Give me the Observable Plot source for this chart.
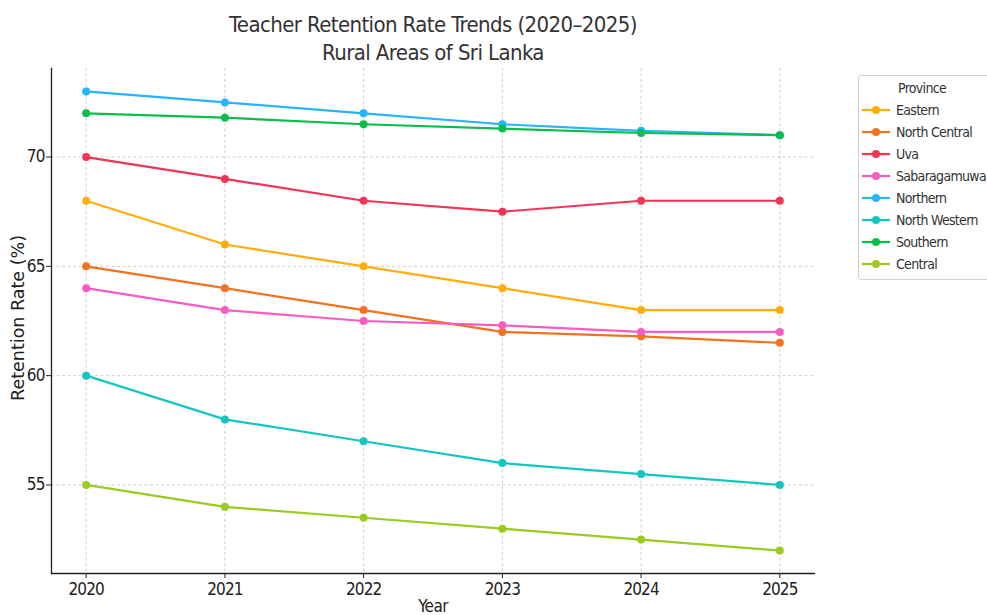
<!DOCTYPE html>
<html>
<head>
<meta charset="utf-8">
<script src="https://cdn.jsdelivr.net/npm/d3@7"></script>
<script src="https://cdn.jsdelivr.net/npm/@observablehq/plot@0.6"></script>
<style>
  body { margin: 0; background: white; }
  #wrap { position: relative; width: 987px; height: 615px; overflow: hidden; }
  #legend { position: absolute; left: 858px; top: 75px; width: 140px; height: 205px;
    border: 1px solid #d0d0d0; border-radius: 3px; background: white;
    font-family: "DejaVu Sans Condensed", "DejaVu Sans", sans-serif; font-size: 14px; letter-spacing: -0.7px; color: #333; box-sizing: border-box; }
  #legend .ttl { text-align: center; margin-top: 4px; margin-right: 12px; height: 19px; line-height: 17px; }
  #legend .row { display: flex; align-items: center; height: 22px; }
  #legend svg { margin-left: 3px; margin-right: 6px; }
</style>
</head>
<body>
<div id="wrap"><div id="chart"></div><div id="legend"></div></div>
<script>
const years = [2020, 2021, 2022, 2023, 2024, 2025];
const provinces = ["Eastern", "North Central", "Uva", "Sabaragamuwa", "Northern", "North Western", "Southern", "Central"];
const colors = ["#ffad0a", "#f4711f", "#f23557", "#f95cc0", "#26b4fb", "#14c6c0", "#0bbd4a", "#9acb1f"];
const eastern = [68, 66, 65, 64, 63, 63];
const northCentral = [65, 64, 63, 62, 61.8, 61.5];
const uva = [70, 69, 68, 67.5, 68, 68];
const sabaragamuwa = [64, 63, 62.5, 62.3, 62, 62];
const northern = [73, 72.5, 72, 71.5, 71.2, 71];
const northWestern = [60, 58, 57, 56, 55.5, 55];
const southern = [72, 71.8, 71.5, 71.3, 71.1, 71];
const central = [55, 54, 53.5, 53, 52.5, 52];
const yTicks = [55, 60, 65, 70];
const titleLine1 = "Teacher Retention Rate Trends (2020–2025)";
const titleLine2 = "Rural Areas of Sri Lanka";
const xLabel = "Year";
const yLabel = "Retention Rate (%)";

const series = [eastern, northCentral, uva, sabaragamuwa, northern, northWestern, southern, central];
const data = [];
provinces.forEach((p, i) => years.forEach((y, j) => data.push({province: p, year: y, value: series[i][j]})));

const grid = {stroke: "#c4c4c4", strokeOpacity: 1, strokeWidth: 0.8, strokeDasharray: "3,2.5"};

const chart = Plot.plot({
  width: 987, height: 615,
  marginLeft: 51, marginRight: 173, marginTop: 68, marginBottom: 42,
  style: {fontFamily: "'DejaVu Sans Condensed', 'DejaVu Sans', sans-serif", fontSize: "17px", color: "#222", background: "white"},
  x: {domain: [2019.75, 2025.25]},
  y: {domain: [50.95, 74.05]},
  color: {domain: provinces, range: colors},
  marks: [
    Plot.gridX(years, grid),
    Plot.gridY(yTicks, grid),
    Plot.frame({anchor: "left", stroke: "#222", strokeWidth: 1.3}),
    Plot.frame({anchor: "bottom", stroke: "#222", strokeWidth: 1.3}),
    Plot.axisX({ticks: years, tickFormat: d => String(d), tickSize: 5, tickPadding: 4, label: null, fontSize: 17}),
    Plot.axisY({ticks: yTicks, tickSize: 5, tickPadding: 2, label: null, fontSize: 17}),
    Plot.line(data, {x: "year", y: "value", z: "province", stroke: "province", strokeWidth: 2.2}),
    Plot.dot(data, {x: "year", y: "value", fill: "province", r: 4}),
    Plot.text([titleLine1], {frameAnchor: "top", dy: -44, fontSize: 22, fill: "#333", lineAnchor: "middle"}),
    Plot.text([titleLine2], {frameAnchor: "top", dy: -16, fontSize: 22, fill: "#333", lineAnchor: "middle"}),
    Plot.text([xLabel], {frameAnchor: "bottom", dy: 33, fontSize: 17, fill: "#222", lineAnchor: "middle"}),
    Plot.text([yLabel], {frameAnchor: "left", dx: -33, dy: -3, rotate: -90, textAnchor: "middle", fontSize: 17.5, fill: "#222", lineAnchor: "middle", fontFamily: "'DejaVu Sans', sans-serif"})
  ]
});
document.getElementById("chart").appendChild(chart);

const svg = d3.select(chart);
svg.selectAll('g[aria-label="x-axis tick label"] text, g[aria-label="y-axis tick label"] text').attr("letter-spacing", "-0.9px");
svg.selectAll("text").filter(function() { return this.textContent === titleLine1 || this.textContent === titleLine2; }).attr("letter-spacing", "-0.6px");
svg.selectAll("text").filter(function() { return this.textContent === xLabel; }).attr("letter-spacing", "-0.6px");

const legend = document.getElementById("legend");
legend.innerHTML = `<div class="ttl">Province</div>` + provinces.map((p, i) =>
  `<div class="row"><svg width="28" height="10"><line x1="0" x2="28" y1="5" y2="5" stroke="${colors[i]}" stroke-width="2.2"/><circle cx="14" cy="5" r="4" fill="${colors[i]}"/></svg><span>${p}</span></div>`
).join("");
</script>
</body>
</html>
